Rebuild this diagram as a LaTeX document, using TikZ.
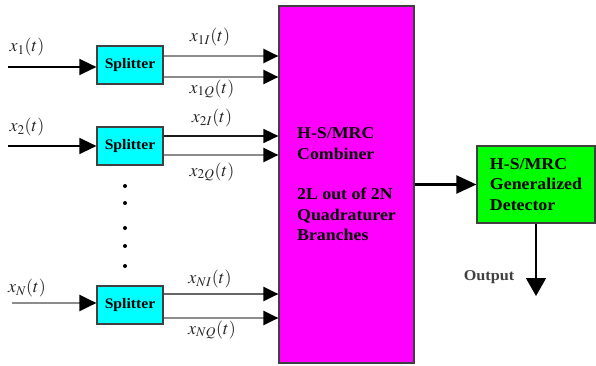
\documentclass[tikz,border=0pt]{standalone}
\usepackage{mathptmx}
\usepackage{fontspec}
\setmainfont{Liberation Serif}
\newfontfamily\widebf[FakeStretch=1.08]{Liberation Serif}
\usetikzlibrary{arrows.meta,calc}
\definecolor{cyanbox}{RGB}{0,255,255}
\definecolor{magbox}{RGB}{255,0,255}
\definecolor{greenbox}{RGB}{0,255,0}
\begin{document}
\begin{tikzpicture}[x=1pt,y=-1pt,
  box/.style={draw=black!75, line width=1.2pt, inner sep=0pt},
  splitbox/.style={box, fill=cyanbox, minimum width=66pt, minimum height=38pt,
    font=\widebf\fontsize{14.5}{16}\selectfont\bfseries},
  bigtxt/.style={font=\widebf\fontsize{16.5}{20.5}\selectfont\bfseries, align=left},
  insig/.style={line width=1.4pt, -{Triangle[length=17pt,width=16pt,color=black]}},
  outsig/.style={line width=2.4pt, -{Triangle[length=15pt,width=14pt,color=black]}},
  sigl/.style={font=\fontsize{18}{20}\selectfont, text=black!85},
  dot/.style={circle, fill=black, inner sep=0pt, minimum size=4pt}
]
\useasboundingbox (0,0) rectangle (596,366);

% combiner and detector
\node[box, fill=magbox, minimum width=135pt, minimum height=357pt, bigtxt] (comb) at (346.5,184.5)
  {H-S/MRC\\Combiner\\[20pt]2L out of 2N\\Quadraturer\\Branches};
\node[box, fill=greenbox, minimum width=118pt, minimum height=77pt, bigtxt] (det) at (536,184.5)
  {H-S/MRC\\Generalized\\Detector};

% splitters
\node[splitbox] (s1) at (130,65) {Splitter};
\node[splitbox] (s2) at (130,146) {Splitter};
\node[splitbox] (sN) at (130,305) {Splitter};

% inputs
\coordinate (in1) at (8,67);
\coordinate (in2) at (8,146);
\coordinate (inN) at (12,303);
\draw[insig, black] (in1) -- (in1 -| s1.west);
\draw[insig, black] (in2) -- (in2 -| s2.west);
\draw[insig, black!45, line width=2.2pt] (inN) -- (inN -| sN.west);

% splitter outputs
\draw[outsig, black!45] ([yshift=9pt]s1.east) -- ([yshift=9pt]s1.east -| comb.west);
\draw[outsig, black!45] ([yshift=-12pt]s1.east) -- ([yshift=-12pt]s1.east -| comb.west);
\draw[outsig, black!90, line width=1.6pt] ([yshift=10pt]s2.east) -- ([yshift=10pt]s2.east -| comb.west);
\draw[outsig, black!45] ([yshift=-9pt]s2.east) -- ([yshift=-9pt]s2.east -| comb.west);
\draw[outsig, black!60] ([yshift=11pt]sN.east) -- ([yshift=11pt]sN.east -| comb.west);
\draw[outsig, black!45] ([yshift=-13pt]sN.east) -- ([yshift=-13pt]sN.east -| comb.west);

% combiner to detector, output
\draw[line width=2.2pt, -{Triangle[length=20pt,width=18pt]}] (comb.east |- det.west) -- (det.west);
\coordinate (outend) at (536,296);
\draw[line width=1.5pt, -{Triangle[length=18pt,width=20pt]}] (det.south) -- (outend);
\node[font=\widebf\fontsize{15}{16}\selectfont\bfseries, text=black!75] (outlbl) at (489,277) {Output};

% signal labels
\node[sigl] (lx1) at (27,47) {$x_1(t)$};
\node[sigl] (lx2) at (27,127) {$x_2(t)$};
\node[sigl] (lxN) at (27,288) {$x_N(t)$};
\node[sigl] (l1I) at (210,37) {$x_{1I}(t)$};
\node[sigl] (l1Q) at (212,89) {$x_{1Q}(t)$};
\node[sigl] (l2I) at (212,118) {$x_{2I}(t)$};
\node[sigl] (l2Q) at (212,172) {$x_{2Q}(t)$};
\node[sigl] (lNI) at (210,279) {$x_{NI}(t)$};
\node[sigl] (lNQ) at (212,330) {$x_{NQ}(t)$};

% vertical dots
\node[dot] (d1) at (125,186) {};
\node[dot] (d2) at (125,203) {};
\node[dot] (d3) at (125,228) {};
\node[dot] (d4) at (125,246) {};
\node[dot] (d5) at (125,266) {};
\end{tikzpicture}
\end{document}
